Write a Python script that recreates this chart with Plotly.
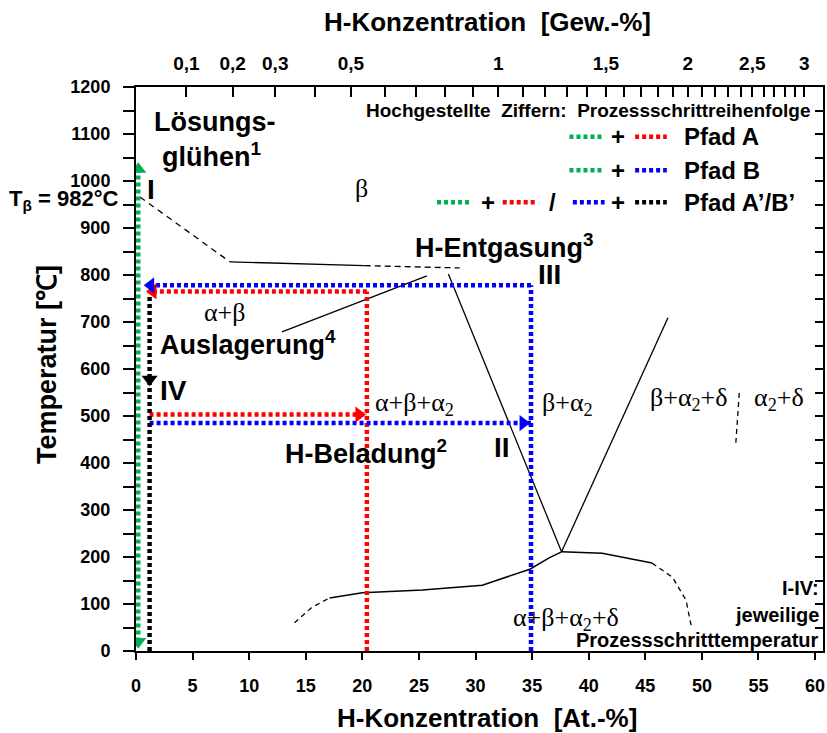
import plotly.graph_objects as go

# ---------------- data (At.-% , °C) ----------------
# phase boundaries
transus_dash_x = [0.35, 8.3]
transus_dash_y = [966, 828]
upper_solid_x = [8.3, 20.2]
upper_solid_y = [828, 820]
upper_dash_x = [20.2, 28.6]
upper_dash_y = [820, 815]
ab_line_x = [12.9, 25.7]
ab_line_y = [679, 798]
ba2_left_x = [27.6, 37.6]
ba2_left_y = [802, 211]
ba2_right_x = [37.6, 47.0]
ba2_right_y = [211, 709]
eut_dash_x = [14.0, 15.5, 17.1]
eut_dash_y = [60, 92, 113]
eut_solid_x = [17.1, 20.0, 25.3, 30.6, 34.8, 36.5, 37.6]
eut_solid_y = [113, 124, 130, 140, 174, 198, 211]
delta_solid_x = [37.6, 41.2, 45.6]
delta_solid_y = [211, 208, 187]
delta_dash_x = [45.6, 47.4, 48.6, 49.1]
delta_dash_y = [187, 157, 108, 48]
a2d_dash_x = [53.3, 53.0]
a2d_dash_y = [549, 443]

# process paths
green_x = [0.2, 0.2]
green_y = [20, 1025]
black_x = [1.2, 1.2]
black_y = [0, 760]
red_x = [1.2, 20.4, None, 20.4, 20.4, None, 20.4, 1.4]
red_y = [503, 503, None, 0, 765, None, 765, 765]
blue_x = [1.2, 34.9, None, 34.9, 34.9, None, 34.9, 1.2]
blue_y = [485, 485, None, 0, 778, None, 778, 778]

# arrow heads: position, direction, colour
arrow_x = [0.2, 0.2, 1.2, 19.7, 1.5, 34.2, 1.3]
arrow_y = [1025, 20, 578, 503, 765, 485, 778]
arrow_sym = ["triangle-up", "triangle-down", "triangle-down", "triangle-right",
             "triangle-left", "triangle-right", "triangle-left"]
arrow_col = ["#00B050", "#00B050", "#000000", "#FF0000", "#FF0000", "#0000FF", "#0000FF"]

# axes
x_ticks = [0, 5, 10, 15, 20, 25, 30, 35, 40, 45, 50, 55, 60]
y_ticks = [0, 100, 200, 300, 400, 500, 600, 700, 800, 900, 1000, 1100, 1200]
y_minor = [0, 50, 100, 150, 200, 250, 300, 350, 400, 450, 500, 550, 600, 650,
           700, 750, 800, 850, 900, 950, 1000, 1050, 1100, 1150, 1200]
gew_minor = [0.0, 0.1, 0.2, 0.3, 0.4, 0.5, 0.6, 0.7, 0.8, 0.9, 1.0, 1.1, 1.2, 1.3, 1.4,
             1.5, 1.6, 1.7, 1.8, 1.9, 2.0, 2.1, 2.2, 2.3, 2.4, 2.5, 2.6, 2.7, 2.8, 2.9, 3.0]
gew_labels = {0.1: "0,1", 0.2: "0,2", 0.3: "0,3", 0.5: "0,5", 1.0: "1",
              1.5: "1,5", 2.0: "2", 2.5: "2,5", 3.0: "3"}

M_H, M_ALLOY = 1.008, 47.0


def gew_to_at(w):
    nh = w / M_H
    nm = (100.0 - w) / M_ALLOY
    return 100.0 * nh / (nh + nm)


top_vals = [gew_to_at(w) for w in gew_minor]
top_text = [gew_labels.get(w, "") for w in gew_minor]

GREEN, RED, BLUE, BLACK = "#00B050", "#FF0000", "#0000FF", "#000000"
DOT = "4px,3px"
SANS = "Liberation Sans, Arial, sans-serif"
SERIF = "Liberation Serif"

fig = go.Figure()


def line(x, y, dash="solid", color=BLACK, width=1.3):
    fig.add_trace(go.Scatter(x=x, y=y, mode="lines", showlegend=False, hoverinfo="skip",
                             line=dict(color=color, width=width, dash=dash)))


line(transus_dash_x, transus_dash_y, dash="6px,5px")
line(upper_solid_x, upper_solid_y)
line(upper_dash_x, upper_dash_y, dash="6px,4px")
line(ab_line_x, ab_line_y)
line(ba2_left_x, ba2_left_y)
line(ba2_right_x, ba2_right_y)
line(eut_dash_x, eut_dash_y, dash="5px,4px")
line(eut_solid_x, eut_solid_y, width=1.5)
line(delta_solid_x, delta_solid_y, width=1.5)
line(delta_dash_x, delta_dash_y, dash="5px,4px")
line(a2d_dash_x, a2d_dash_y, dash="5px,4px")

line(green_x, green_y, dash=DOT, color=GREEN, width=4.5)
line(red_x, red_y, dash=DOT, color=RED, width=4.5)
line(blue_x, blue_y, dash=DOT, color=BLUE, width=4.5)
line(black_x, black_y, dash=DOT, color=BLACK, width=4.5)

fig.add_trace(go.Scatter(x=arrow_x, y=arrow_y, mode="markers", showlegend=False, hoverinfo="skip",
                         marker=dict(symbol=arrow_sym, color=arrow_col, size=14,
                                     line=dict(width=0))))

ann = []


def txt(x, y, s, size, font=SANS, bold=True, xanchor="center", color=BLACK, xref="x", yref="y",
        xshift=0, yshift=0, textangle=0):
    ann.append(dict(x=x, y=y, text=(f"<b>{s}</b>" if bold else s), showarrow=False,
                    xref=xref, yref=yref, xanchor=xanchor, yanchor="middle",
                    xshift=xshift, yshift=yshift, textangle=textangle,
                    font=dict(family=font, size=size, color=color)))


# bold labels
txt(7.0, 1125, "Lösungs-", 27)
txt(6.7, 1055, "glühen<sup>1</sup>", 27)
txt(0.8, 981, "I", 28, xanchor="left")
txt(0, 960, "T<sub>β</sub> = 982°C", 22, xref="paper", xanchor="right", xshift=-16)
txt(9.9, 655, "Auslagerung<sup>4</sup>", 27)
txt(32.6, 862, "H-Entgasung<sup>3</sup>", 27)
txt(35.3, 802, "III", 28, xanchor="left")
txt(1.9, 555, "IV", 28, xanchor="left")
txt(20.3, 424, "H-Beladung<sup>2</sup>", 27)
txt(32.3, 434, "II", 28)
txt(1, 134, "I-IV:", 20, xref="paper", xanchor="right", xshift=-2)
txt(1, 77, "jeweilige", 20, xref="paper", xanchor="right", xshift=-2)
txt(1, 23, "Prozessschritttemperatur", 20, xref="paper", xanchor="right", xshift=-2)

# serif phase labels
txt(19.9, 985, "β", 26, font=SERIF, bold=False)
txt(7.9, 721, "α+β", 26, font=SERIF, bold=False)
txt(24.6, 526, "α+β+α<sub>2</sub>", 26, font=SERIF, bold=False)
txt(38.1, 526, "β+α<sub>2</sub>", 26, font=SERIF, bold=False)
txt(48.9, 536, "β+α<sub>2</sub>+δ", 26, font=SERIF, bold=False)
txt(56.8, 536, "α<sub>2</sub>+δ", 26, font=SERIF, bold=False)
txt(38.0, 68, "α+β+α<sub>2</sub>+δ", 26, font=SERIF, bold=False)

# custom legend
txt(59.7, 1151, "Hochgestellte  Ziffern:  Prozessschrittreihenfolge", 19, xanchor="right")
txt(48.2, 1094, "Pfad A", 24, xanchor="left")
txt(48.2, 1023, "Pfad B", 24, xanchor="left")
txt(48.2, 955, "Pfad A’/B’", 24, xanchor="left")
for yy in (1094, 1023, 955):
    txt(42.6, yy, "+", 24)
txt(31.1, 955, "+", 24)
txt(36.8, 955, "/", 24)

legend_segments = [
    (38.3, 41.2, 1094, GREEN), (44.1, 46.9, 1094, RED),
    (38.3, 41.2, 1023, GREEN), (44.1, 46.9, 1023, BLUE),
    (26.6, 29.7, 955, GREEN), (32.4, 35.4, 955, RED),
    (38.6, 41.4, 955, BLUE), (44.1, 46.9, 955, BLACK),
]
shapes = [dict(type="line", xref="x", yref="y", x0=a, x1=b, y0=yy, y1=yy,
               line=dict(color=c, width=4.5, dash=DOT)) for a, b, yy, c in legend_segments]

# axis titles
txt(0.511, 1, "H-Konzentration  [Gew.-%]", 26, xref="paper", yref="paper", yshift=65)
txt(0.511, 0, "H-Konzentration  [At.-%]", 26, xref="paper", yref="paper", yshift=-67)
txt(0, 0.507, "Temperatur [℃]", 27, xref="paper", yref="paper", xshift=-89, textangle=-90)

tickfont = dict(family=SANS, size=18, color=BLACK)

fig.update_layout(
    width=827, height=733,
    margin=dict(l=136, r=4, t=87, b=82),
    plot_bgcolor="white", paper_bgcolor="white",
    showlegend=False,
    annotations=ann, shapes=shapes,
    xaxis=dict(range=[0, 60.7], tickvals=x_ticks, ticktext=[f"<b>{v}</b>" for v in x_ticks],
               ticks="outside", ticklen=7, tickwidth=2, tickcolor=BLACK, automargin=False,
               showline=True, linecolor=BLACK, linewidth=2, mirror=True,
               showgrid=False, zeroline=False, tickfont=tickfont, ticklabelstandoff=10),
    xaxis2=dict(range=[0, 60.7], overlaying="x", side="top", anchor="y", tickvals=top_vals,
                ticktext=[f"<b>{t}</b>" if t else "" for t in top_text], automargin=False,
                ticks="inside", ticklen=10, tickwidth=2, tickcolor=BLACK,
                showline=False, showgrid=False, zeroline=False,
                tickfont=dict(family=SANS, size=19, color=BLACK), ticklabelstandoff=12),
    yaxis=dict(range=[0, 1200], tickvals=y_ticks, ticktext=[f"<b>{v}</b>" for v in y_ticks],
               ticks="outside", ticklen=11, tickwidth=2, tickcolor=BLACK, automargin=False,
               minor=dict(dtick=50, ticks="outside", ticklen=11, tickwidth=2, tickcolor=BLACK),
               showline=True, linecolor=BLACK, linewidth=2, mirror=True,
               showgrid=False, zeroline=False, tickfont=tickfont, ticklabelstandoff=9),
    yaxis2=dict(range=[0, 1200], overlaying="y", side="right", anchor="x", tickvals=y_minor,
                showticklabels=False, ticks="inside", ticklen=8, tickwidth=2, tickcolor=BLACK,
                showline=False, showgrid=False, zeroline=False, automargin=False),
)
# invisible trace on the secondary axes so that they are drawn
fig.add_trace(go.Scatter(x=[30], y=[600], xaxis="x2", yaxis="y2", mode="markers",
                         marker=dict(opacity=0), showlegend=False, hoverinfo="skip"))

fig.write_html("out.html", config={"displayModeBar": False},
               post_script="document.body.style.margin='0';")
